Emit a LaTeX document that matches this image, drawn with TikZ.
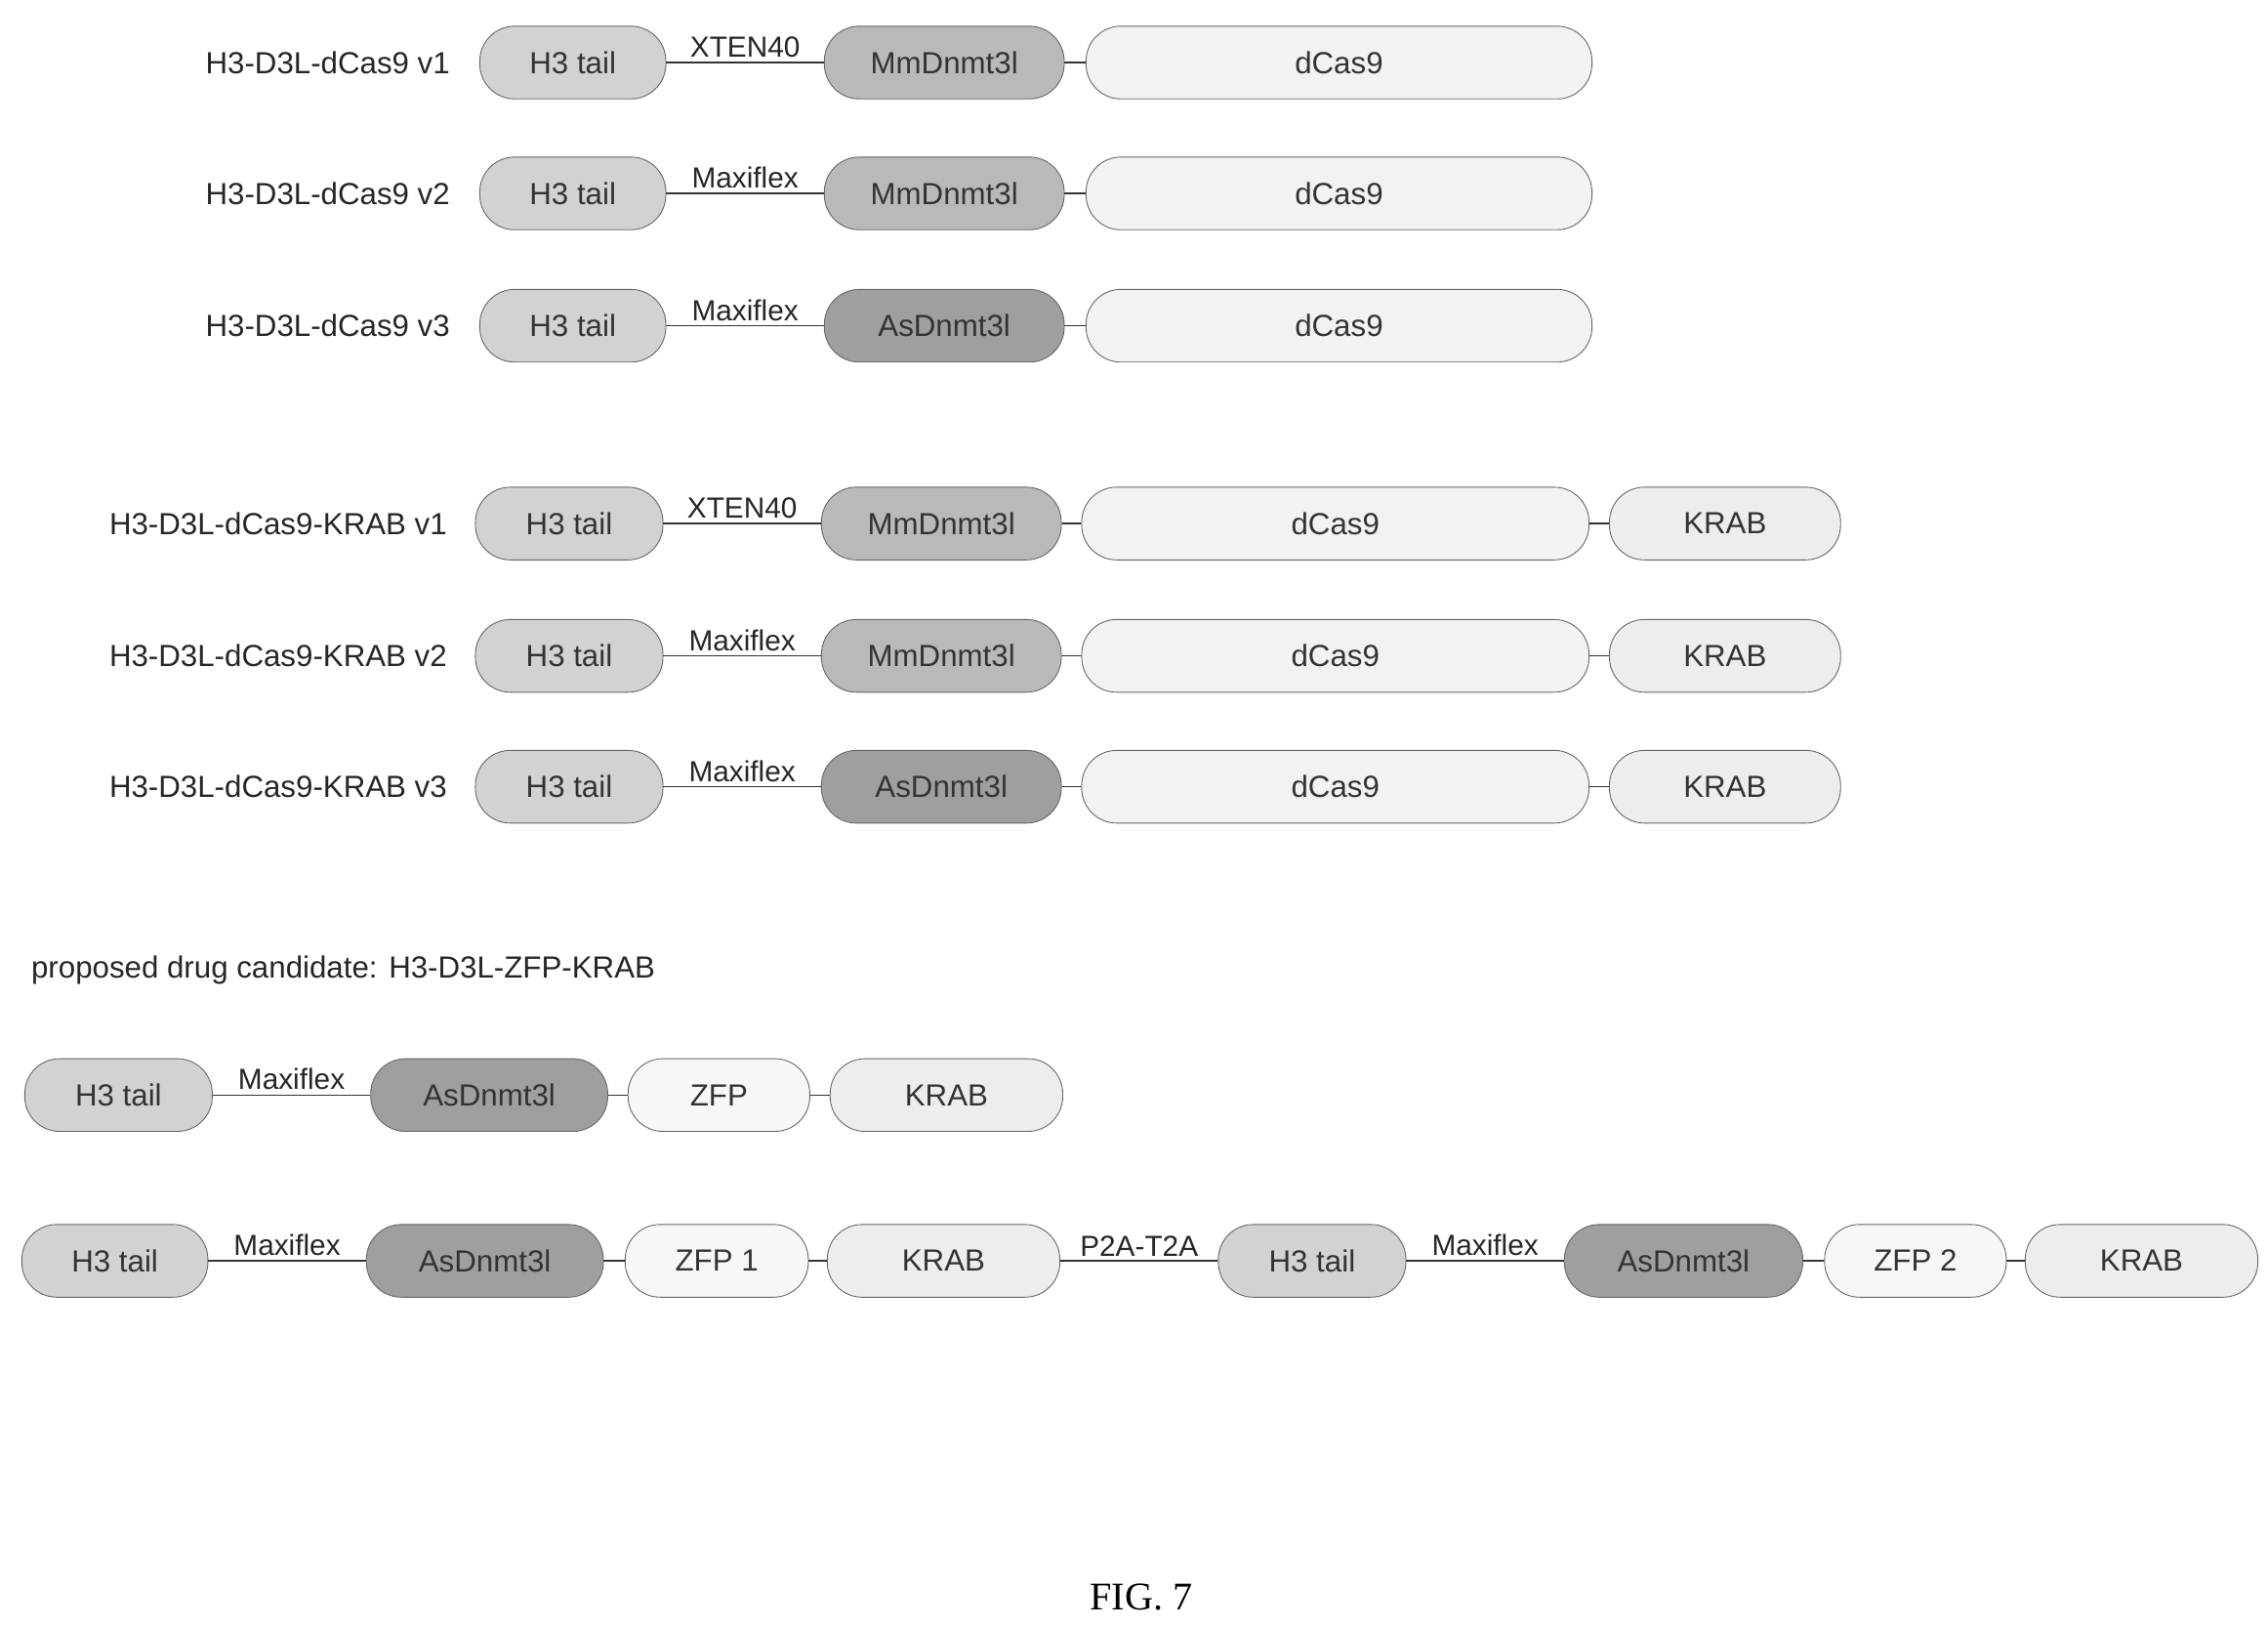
\documentclass[tikz,border=0pt]{standalone}
\usepackage{fontspec}
\setmainfont{Liberation Serif}
\setsansfont{Liberation Sans}
\begin{document}
\begin{tikzpicture}[x=1pt,y=-1pt,
  dom/.style={draw=gray!80!black, line width=0.6pt, rounded corners=24pt, minimum height=50pt, inner sep=0pt, font=\sffamily\fontsize{21}{21}\selectfont, text=black!80},
  h3/.style={dom, fill=gray!35},
  mm/.style={dom, fill=gray!55},
  as/.style={dom, fill=gray!75},
  cas/.style={dom, fill=gray!10},
  krab/.style={dom, fill=gray!14},
  zfp/.style={dom, fill=gray!6},
  lnk/.style={line width=0.8pt, black!80},
  lab/.style={font=\sffamily\fontsize{21}{21}\selectfont, text=black!85},
  ll/.style={font=\sffamily\fontsize{20}{20}\selectfont, text=black!85, above, inner sep=3pt}]
\useasboundingbox (0,0) rectangle (1560,1117.5);
\newcommand\dom[6]{\node[#5, minimum width={#3pt-#2pt}] (#1) at ({(#2+#3)/2},#4) {#6};}
% rows 1-3
\foreach \y/\v/\mid/\st/\lk in {43/1/MmDnmt3l/mm/XTEN40, 133/2/MmDnmt3l/mm/Maxiflex, 224/3/AsDnmt3l/as/Maxiflex}{
  \node[lab, anchor=east] (l\v) at (313,\y) {H3-D3L-dCas9 v\v};
  \dom{a\v}{330}{458}{\y}{h3}{H3 tail}
  \dom{b\v}{567}{732}{\y}{\st}{\mid}
  \dom{c\v}{747}{1095}{\y}{cas}{dCas9}
  \draw[lnk] (a\v) -- node[ll]{\lk} (b\v);
  \draw[lnk] (b\v) -- (c\v);
}
% rows 4-6
\foreach \y/\v/\mid/\st/\lk in {360/1/MmDnmt3l/mm/XTEN40, 451/2/MmDnmt3l/mm/Maxiflex, 541/3/AsDnmt3l/as/Maxiflex}{
  \node[lab, anchor=east] (k\v) at (311,\y) {H3-D3L-dCas9-KRAB v\v};
  \dom{p\v}{327}{456}{\y}{h3}{H3 tail}
  \dom{q\v}{565}{730}{\y}{\st}{\mid}
  \dom{r\v}{744}{1093}{\y}{cas}{dCas9}
  \dom{s\v}{1107}{1266}{\y}{krab}{KRAB}
  \draw[lnk] (p\v) -- node[ll]{\lk} (q\v);
  \draw[lnk] (q\v) -- (r\v);
  \draw[lnk] (r\v) -- (s\v);
}
\node[lab, anchor=west] (prop) at (18,667) {proposed drug candidate: H3-D3L-ZFP-KRAB};
% row 7
\dom{t1}{17}{146}{753}{h3}{H3 tail}
\dom{t2}{255}{418}{753}{as}{AsDnmt3l}
\dom{t3}{432}{557}{753}{zfp}{ZFP}
\dom{t4}{571}{731}{753}{krab}{KRAB}
\draw[lnk] (t1) -- node[ll]{Maxiflex} (t2);
\draw[lnk] (t2) -- (t3);
\draw[lnk] (t3) -- (t4);
% row 8
\dom{u1}{15}{143}{867}{h3}{H3 tail}
\dom{u2}{252}{415}{867}{as}{AsDnmt3l}
\dom{u3}{430}{556}{867}{zfp}{ZFP 1}
\dom{u4}{569}{729}{867}{krab}{KRAB}
\dom{u5}{838}{967}{867}{h3}{H3 tail}
\dom{u6}{1076}{1240}{867}{as}{AsDnmt3l}
\dom{u7}{1255}{1380}{867}{zfp}{ZFP 2}
\dom{u8}{1393}{1553}{867}{krab}{KRAB}
\draw[lnk] (u1) -- node[ll]{Maxiflex} (u2);
\draw[lnk] (u2) -- (u3);
\draw[lnk] (u3) -- (u4);
\draw[lnk] (u4) -- node[ll]{P2A-T2A} (u5);
\draw[lnk] (u5) -- node[ll]{Maxiflex} (u6);
\draw[lnk] (u6) -- (u7);
\draw[lnk] (u7) -- (u8);
\node[font=\rmfamily\fontsize{27}{27}\selectfont] (fig) at (785,1098) {FIG. 7};
\end{tikzpicture}
\end{document}
